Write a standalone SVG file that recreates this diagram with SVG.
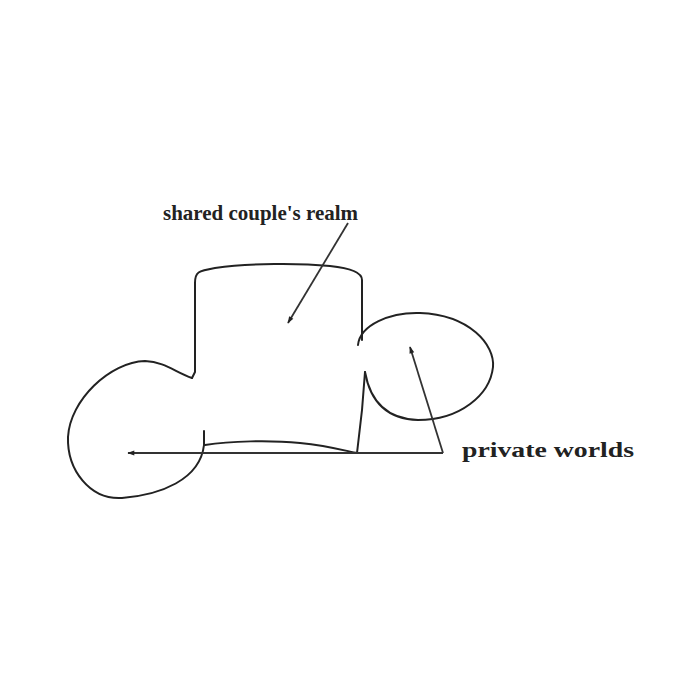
<svg xmlns="http://www.w3.org/2000/svg" width="700" height="700" viewBox="0 0 700 700">
<defs>
<style>
.s{fill:none;stroke:#222;stroke-width:2;stroke-linecap:round;stroke-linejoin:round}
.c{fill:none;stroke:#333;stroke-width:1.8}
.t{font-family:"Liberation Serif","DejaVu Serif",serif;font-size:22px;font-weight:bold;fill:#222}
</style>
<marker id="ah" viewBox="0 0 10 10" refX="9" refY="5" markerWidth="9" markerHeight="7" orient="auto" markerUnits="userSpaceOnUse">
<path d="M0,1.5 L10,5 L0,8.5 Z" fill="#222"/>
</marker>
</defs>
<rect width="700" height="700" fill="#fff"/>
<g id="shared-realm">
<path class="s" d="M195,283 C195,272 198,271 215,268 C250,263 300,263 330,266 C350,268 362,272 362,280 L362,340"/>
<path class="s" d="M195,283 L195,372 L192,378"/>
<path class="s" d="M205,445 C230,441 270,440 300,443 C330,446 350,452 357,453"/>
<path class="s" d="M357,453 L362,410 L365,372"/>
</g>
<g id="left-private">
<path class="s" d="M192,378 C175,372 165,362 145,361 C110,362 70,400 68,437 C67,470 90,500 122,498 C160,495 200,480 204,445 L204,431"/>
</g>
<g id="right-private">
<path class="s" d="M358,345 C360,325 390,312 420,313 C470,315 495,345 493,367 C490,395 460,420 418,420 C385,419 370,400 365,372"/>
</g>
<g id="connectors">
<line class="c" x1="348" y1="223" x2="288" y2="323" marker-end="url(#ah)"/>
<polyline class="c" points="443,453 128,453" marker-end="url(#ah)"/>
<polyline class="c" points="443,453 410,347" marker-end="url(#ah)"/>
</g>
<g id="labels">
<text class="t" x="163" y="220" textLength="195" lengthAdjust="spacingAndGlyphs">shared couple's realm</text>
<text class="t" x="462" y="457" textLength="172" lengthAdjust="spacingAndGlyphs">private worlds</text>
</g>
</svg>
